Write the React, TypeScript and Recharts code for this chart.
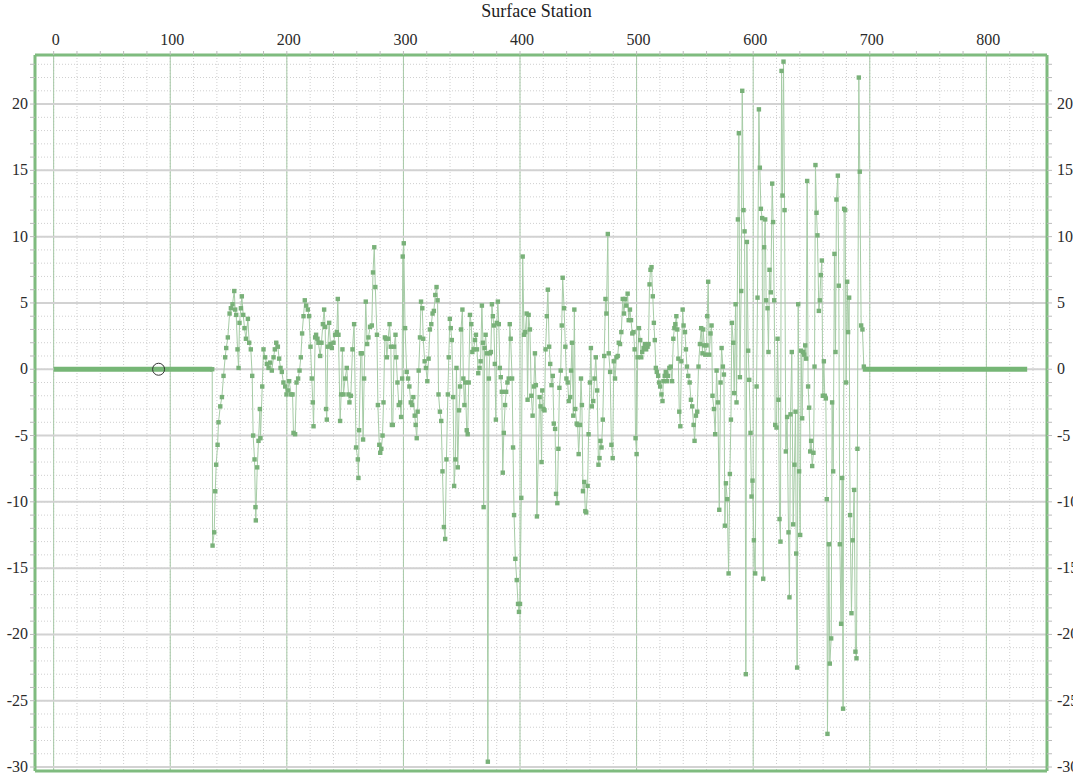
import { LineChart, Line, XAxis, YAxis, CartesianGrid, ReferenceLine, ReferenceDot } from 'recharts';

const stations = [
  136, 136.3, 137.7, 138.6, 139.4, 140.6, 141.4, 142.9, 144.3, 145.7, 147.1, 148, 149.4, 150.9, 152, 153.4, 154.9, 155.7, 156.6, 157.7,
  158.6, 159.4, 160.6, 161.4, 162.6, 163.7, 164.9, 166.6, 167.7, 169.1, 170.3, 171.1, 172.3, 173.1, 173.4, 174.6, 175.7, 176.9, 177.4, 178.9,
  180, 181.4, 182.9, 184.3, 185.7, 187.1, 188.6, 189.7, 190.9, 192.3, 193.4, 194.6, 195.7, 197.1, 198.6, 199.7, 200.9, 202, 203.7, 204.9,
  205.7, 207.1, 208.3, 209.7, 210.9, 212, 213.1, 214.3, 215.4, 216.6, 218, 219.1, 220.3, 221.4, 222.3, 222.9, 224.3, 225.1, 226.3, 227.1,
  228.6, 229.7, 230.9, 232, 232.9, 233.7, 234.3, 235.1, 236.3, 237.4, 238.6, 240, 241.4, 242.9, 243.7, 244.3, 245.7, 246.6, 247.7, 248.6,
  250, 251.4, 252.9, 253.7, 254.9, 256.3, 257.7, 259.4, 260.9, 261.4, 262, 263.4, 264.3, 265.4, 266.3, 267.7, 268.9, 270, 271.4, 272.9,
  273.9, 275, 275.9, 277.3, 278.1, 279.3, 280.1, 281, 282.1, 282.9, 284.1, 285, 285.8, 286.9, 288.1, 289.2, 290.1, 290.9, 292, 293.2,
  293.8, 294.9, 296, 297.2, 298, 298.9, 299.4, 300.3, 301.4, 302.8, 304, 305.1, 306.3, 307.4, 308.5, 309.7, 310.5, 311.4, 312.2, 313.1,
  314.2, 315.1, 316.2, 317, 318.2, 319.3, 320.5, 321.6, 322.7, 323.9, 325, 326.1, 327.3, 328.4, 329.3, 330.1, 331.3, 332.4, 333.5, 334.7,
  335.8, 336.9, 338.1, 338.9, 339.8, 340.6, 341.5, 342.6, 343.5, 344.6, 345.5, 346.6, 347.7, 348.6, 349.4, 350.6, 351.4, 352.3, 353.1, 354.3,
  355.1, 356, 357.1, 358.2, 359.1, 360.2, 361.4, 362.2, 363.1, 364.2, 365.3, 366.2, 367.3, 368.2, 368.8, 369.6, 370.5, 371.6, 372.4, 373.3,
  374.1, 375, 375.9, 376.7, 377.6, 378.4, 379.3, 380.1, 381, 381.8, 382.7, 383.5, 384.4, 385.2, 386.1, 387.2, 388.1, 389.2, 390.3, 391.2,
  392, 393.2, 394, 394.9, 396, 397.2, 398.3, 399.1, 400, 401.1, 402.3, 403.4, 404.5, 405.7, 406.5, 407.4, 408.5, 409.7, 410.8, 411.9,
  412.8, 413.6, 414.5, 416.8, 417.6, 418.5, 419.1, 420.2, 421, 421.9, 423, 423.9, 425, 425.9, 427, 428.1, 429, 430.1, 430.9, 432,
  432.9, 433.8, 434.9, 435.8, 436.6, 437.8, 438.9, 439.8, 440.9, 441.8, 443, 443.8, 444.6, 445.7, 446.6, 447.4, 448.6, 449.4, 450.3, 451.4,
  452.3, 453.1, 454, 455.1, 456, 456.8, 458, 458.8, 460, 460.8, 461.6, 462.8, 463.9, 465, 466.2, 467.3, 468.2, 469, 469.9, 471,
  472.2, 473.3, 474.1, 475.3, 476.1, 477.3, 478.4, 479.5, 480.4, 481.5, 482.7, 483.8, 484.7, 485.8, 486.9, 488.1, 489.2, 490.1, 491.2, 492.3,
  493.2, 494.3, 495.2, 496.3, 497.4, 498.3, 499.1, 500, 500.9, 502, 503.1, 504, 504.8, 506, 507.1, 508.2, 509.4, 510.2, 511.1, 511.9,
  512.8, 513.9, 514.8, 515.6, 516.5, 517.3, 518.5, 519.3, 520.2, 521.3, 522.2, 523, 524.1, 525, 526.1, 527, 528.1, 529.3, 530.4, 531.5,
  532.4, 533.2, 534.1, 534.9, 535.8, 536.6, 537.5, 538.4, 539.5, 540.3, 541.5, 542.3, 543.2, 544.3, 545.5, 546.6, 547.7, 548.9, 549.7, 550.9,
  552, 553.1, 554.3, 555.4, 556.5, 557.1, 558, 558.9, 560, 560.6, 561.4, 562.3, 563.4, 564.3, 565.1, 566.3, 567.4, 568.6, 569.7, 570.9,
  572, 572.9, 574, 574.9, 575.7, 576.6, 577.7, 578.9, 580, 580.9, 581.7, 582.9, 583.7, 584.9, 585.7, 586.9, 587.7, 588.6, 589.7, 590.6,
  591.7, 592.6, 593.7, 594.6, 595.7, 596.6, 597.7, 598.6, 599.4, 600.6, 601.7, 602.9, 603.7, 604.9, 605.7, 606.6, 607.7, 608.6, 609.4, 610.3,
  611.1, 612.3, 613.1, 614, 615.1, 616.3, 617.1, 618, 618.9, 620, 620.9, 621.7, 622.6, 623.4, 624.3, 625.1, 626, 626.9, 628, 629.1,
  630.3, 631.1, 632, 633.1, 634.3, 635.4, 636.3, 636.9, 637.7, 638.6, 639.4, 640.3, 641.1, 642, 642.9, 643.7, 644.6, 645.4, 646.3, 647.1,
  648, 648.9, 649.7, 650.6, 651.7, 652.6, 653.4, 654.3, 655.1, 656.3, 657.1, 658, 658.9, 659.7, 660.6, 661.4, 662.3, 663.1, 663.7, 664.9,
  665.7, 666.9, 667.7, 668.6, 669.7, 670.6, 671.4, 672.6, 673.4, 674.3, 675.4, 676.3, 677.1, 678, 678.9, 679.7, 680.6, 681.4, 682.3, 683.1,
  684.3, 685.4, 686.6, 687.7, 688.6, 689.4, 690.6, 691.4, 692.6, 693.7, 694.9,
];

const residuals = [
  0, -13.3, -12.3, -9.2, -7.2, -5.7, -4.0, -2.8, -2.1, -0.5, 0.9, 1.6, 2.4, 4.2, 4.6, 4.9, 5.9, 4.5, 4.1, 1.5,
  0.1, 3.5, 4.6, 5.5, 4.1, 3.1, 2.3, 3.8, 2.0, 1.5, -0.5, -5.0, -6.8, -10.4, -11.4, -7.4, -5.4, -3.0, -5.2, -1.3,
  1.5, 0.9, 0.4, 0.1, 0.5, -0.1, 0.9, 1.5, 2.0, 1.7, 0.8, 0.1, -0.2, -1.0, -1.3, -1.9, -1.6, -0.9, -1.9, -1.9,
  -4.8, -4.9, -1.0, -0.7, -0.1, 0.9, 2.7, 4.0, 5.2, 4.8, 4.5, 4.0, 1.7, -0.7, -2.5, -4.3, 2.4, 2.6, 2.3, 2.0,
  1.0, 2.0, 3.4, 4.5, 3.2, -3.0, -3.8, 1.7, 3.5, 1.9, 1.6, 2.0, 2.6, 2.8, 5.3, 2.6, -3.9, -1.9, 1.5, -1.9,
  -0.7, 0.1, -1.9, -2.5, -2.0, 1.5, 3.4, -5.9, -6.8, -8.2, -4.6, 1.2, 1.2, -5.3, -0.7, 5.1, 1.9, 2.4, 3.2, 3.3,
  7.3, 9.2, 6.2, 2.6, -2.7, -5.7, -6.3, -6.0, -5.0, -2.5, 2.4, 2.3, 0.9, 2.3, 3.4, 1.7, -4.2, -4.2, 1.7, 2.6,
  0.9, -1.0, -2.7, -2.5, -3.6, -0.7, 8.5, 9.5, 3.1, -0.2, -0.7, -1.3, -2.5, -2.7, -2.1, -3.5, -4.2, -5.2, -3.2, -0.1,
  2.4, 5.1, 4.6, 2.3, 0.6, 0.1, -0.9, 0.8, 3.0, 3.4, 4.2, 4.4, 5.6, 6.2, 5.2, -1.9, -3.2, -3.9, -7.7, -11.9,
  -12.8, -6.8, -1.9, 0.9, 3.8, 3.1, 2.2, -2.1, -8.8, -6.8, 0.1, -7.4, -3.1, -1.3, 3.0, 4.5, -0.7, -2.7, -1.0, -4.6,
  -4.9, -1.0, 4.1, 3.4, 1.3, 1.5, 2.2, 2.6, 1.5, -0.3, 0.1, 0.6, 4.8, 2.0, -10.4, 1.6, 2.6, 1.2, -29.6, -0.7,
  1.2, 1.3, 4.9, 4.0, 3.3, 0.4, -3.8, 3.5, 5.1, 3.4, 0.1, -0.6, -1.7, -7.8, -4.8, -2.7, -1.7, -1.0, -0.7, 3.4,
  2.3, -0.7, -5.9, -11.0, -14.3, -15.9, -17.7, -18.3, -17.7, -9.7, 8.5, 2.6, 2.8, 4.2, -2.3, 4.1, 3.0, -2.0, -3.5, -1.3,
  1.2, -1.2, -11.1, -2.1, -2.8, -7.0, -1.6, -3.0, -3.1, 1.5, 4.0, 6.0, 1.7, 0.4, -1.2, -0.5, -4.1, -4.5, -9.4, -10.1,
  -6.0, -1.4, -0.1, 3.3, 6.9, 4.6, 1.7, -0.7, -1.0, -2.4, -2.1, -0.1, 2.0, -3.5, 4.5, -3.0, -4.1, -4.2, -6.4, -4.2,
  -0.7, -2.7, -9.2, -8.5, -10.7, -10.8, -8.8, -4.9, -1.0, 1.6, -2.8, -2.4, -0.7, 0.9, -1.6, -7.2, -6.7, -5.4, -5.9, -3.8,
  1.0, 5.3, 4.2, 10.2, 1.2, -0.2, -5.7, -6.7, 0.6, -0.7, 0.9, 1.0, 2.0, 1.9, 2.8, 5.3, 4.2, 5.3, 4.8, 5.7,
  3.7, 4.5, 3.7, 2.7, 2.8, 1.5, -5.2, -6.4, 0.9, 3.1, 2.2, 0.9, 1.3, 1.6, 1.9, 1.5, 1.7, 1.9, 6.4, 7.5,
  7.7, 5.5, 3.5, 2.2, 0.1, -0.2, -0.5, -1.0, -1.3, -1.9, -2.4, -0.9, -0.5, -0.2, -0.9, -0.5, 0.1, 0.2, -0.9, 2.3,
  3.1, 3.4, 4.0, 3.0, 0.8, -3.2, -4.3, 0.6, 4.5, 3.3, 2.8, 1.5, 0.2, -0.5, -1.0, -2.3, -2.8, -4.2, -5.4, -3.5,
  -3.2, 0.2, 1.9, 3.1, 1.2, 3.0, 1.8, 1.1, 1.8, 4.0, 6.6, 1.1, 2.7, 3.3, -2.0, -3.0, -4.9, -0.1, -2.5, -10.6,
  -1.0, 1.6, 0.2, -0.4, -11.8, -8.6, -9.8, -15.4, -7.9, -3.8, 3.5, 2.0, -1.8, 4.9, -2.5, 11.3, 17.8, -0.6, 5.9, 21.0,
  12.0, 10.4, -23.0, 9.6, 1.4, -0.8, -4.8, -9.6, -8.4, -12.9, -15.4, -1.3, 5.4, 19.6, 15.2, 12.1, 11.4, -15.8, 9.2, 11.3,
  5.2, 4.6, 1.3, 7.5, 5.8, 14.0, 11.1, 5.2, -4.2, -4.4, 2.3, -2.3, -11.3, -13.0, 22.5, 13.1, 23.2, 12.0, -6.2, -3.6,
  -12.3, -17.2, -3.4, 1.3, -11.7, -7.2, -3.2, -13.9, -22.5, 4.9, -7.7, -12.5, 1.4, -3.7, 1.3, 1.1, 1.8, 0.8, 14.2, -1.3,
  -2.9, -6.2, -5.4, -7.3, -6.3, 0.2, 15.4, 11.8, 10.1, 4.4, 5.2, 7.1, 8.2, -2.0, 0.6, -2.0, -2.2, -9.8, -27.5, -13.2,
  -22.2, -20.3, -2.5, -7.7, 8.7, 1.3, 12.8, 14.6, 6.3, -13.2, -19.2, -8.2, -25.6, 12.1, 12.0, -1.0, 6.6, 2.8, 5.4, -11.0,
  -18.4, -12.9, -9.1, -21.3, -21.8, -6.0, 22.0, 14.9, 3.3, 3.0, 0.2,
];

const leadStations = [0, 136];
const leadValues = [0, 0];
const tailStations = [694, 835];
const tailValues = [0, 0];

const xTickLabels = [0, 100, 200, 300, 400, 500, 600, 700, 800];
const yTickLabels = [-30, -25, -20, -15, -10, -5, 0, 5, 10, 15, 20];

const markerStation = 90;
const markerValue = 0;

const X_DOMAIN: [number, number] = [-16, 852];
const Y_DOMAIN: [number, number] = [-30.3, 23.7];

const mainData = stations.map((x, i) => ({ x, y: residuals[i] }));
const leadData = leadStations.map((x, i) => ({ x, y: leadValues[i] }));
const tailData = tailStations.map((x, i) => ({ x, y: tailValues[i] }));

const xMinor: number[] = [];
for (let v = 0; v <= 840; v += 20) xMinor.push(v);
const yMinor: number[] = [];
for (let v = -30; v <= 23; v += 1) yMinor.push(v);

const GREEN = '#7fbb7f';
const FONT = '"Liberation Serif", "DejaVu Serif", serif';
const labelStyle = { fontFamily: FONT, fontSize: 16, fill: '#2a2a2a' };

const SquareDot = (props: any) => {
  const { cx, cy, index } = props;
  if (cx == null || cy == null) return <g key={`d-${index}`} />;
  return <rect key={`d-${index}`} x={cx - 2.2} y={cy - 2.2} width={4.4} height={4.4} fill="#79b179" />;
};

const TopTick = (props: any) => {
  const { x, y, payload } = props;
  if (!xTickLabels.includes(payload.value)) return <g />;
  return (
    <text x={x + 2} y={y - 3} textAnchor="middle" fontFamily={FONT} style={labelStyle}>
      {payload.value}
    </text>
  );
};

const LeftTick = (props: any) => {
  const { x, y, payload } = props;
  if (!yTickLabels.includes(payload.value)) return <g />;
  return (
    <text x={x} y={y + 5} textAnchor="end" fontFamily={FONT} style={labelStyle}>
      {payload.value}
    </text>
  );
};

const RightTick = (props: any) => {
  const { x, y, payload } = props;
  if (!yTickLabels.includes(payload.value)) return <g />;
  return (
    <text x={x} y={y + 5} textAnchor="start" fontFamily={FONT} style={labelStyle}>
      {payload.value}
    </text>
  );
};

export default function App() {
  return (
    <div style={{ position: 'fixed', left: 0, top: 0, width: 1073, height: 776, background: '#fff', fontFamily: FONT }}>
      <div
        style={{
          position: 'absolute',
          top: 1,
          left: 0,
          width: 1073,
          textAlign: 'center',
          fontFamily: FONT,
          fontSize: 18,
          color: '#222',
        }}
      >
        Surface Station
      </div>
      <LineChart width={1073} height={776} data={mainData} margin={{ top: 28, right: 0, bottom: 5, left: 0 }}>
        <CartesianGrid horizontal={false} verticalValues={xMinor} stroke="#cfcfcf" strokeDasharray="1 2" />
        <CartesianGrid vertical={false} horizontalValues={yMinor} stroke="#cfcfcf" strokeDasharray="1 2" />
        <CartesianGrid horizontal={false} verticalValues={xTickLabels} stroke="#a6c8a6" strokeWidth={1} />
        <CartesianGrid vertical={false} horizontalValues={yTickLabels} stroke="#d2d2d2" strokeWidth={2} />
        <XAxis
          dataKey="x"
          type="number"
          orientation="top"
          domain={X_DOMAIN}
          ticks={xMinor}
          interval={0}
          allowDataOverflow
          height={27}
          tickSize={4}
          tickMargin={3}
          tick={<TopTick />}
          axisLine={{ stroke: GREEN, strokeWidth: 3 }}
          tickLine={{ stroke: '#bbb' }}
        />
        <YAxis
          type="number"
          domain={Y_DOMAIN}
          ticks={yMinor}
          interval={0}
          allowDataOverflow
          width={35}
          tickSize={5}
          tickMargin={2}
          tick={<LeftTick />}
          axisLine={{ stroke: GREEN, strokeWidth: 3 }}
          tickLine={{ stroke: '#bbb' }}
        />
        <YAxis
          yAxisId="r"
          orientation="right"
          type="number"
          domain={Y_DOMAIN}
          ticks={yMinor}
          interval={0}
          allowDataOverflow
          width={26}
          tickSize={5}
          tickMargin={5}
          tick={<RightTick />}
          axisLine={{ stroke: GREEN, strokeWidth: 3 }}
          tickLine={{ stroke: '#bbb' }}
        />
        <ReferenceLine y={Y_DOMAIN[0]} stroke={GREEN} strokeWidth={3} ifOverflow="extendDomain" />
        <Line
          data={mainData}
          dataKey="y"
          type="linear"
          stroke="#a6cca6"
          strokeWidth={1}
          dot={SquareDot}
          activeDot={false}
          isAnimationActive={false}
        />
        <Line
          data={leadData}
          dataKey="y"
          type="linear"
          stroke="#76b676"
          strokeWidth={5}
          dot={false}
          activeDot={false}
          isAnimationActive={false}
        />
        <Line
          data={tailData}
          dataKey="y"
          type="linear"
          stroke="#76b676"
          strokeWidth={5}
          dot={false}
          activeDot={false}
          isAnimationActive={false}
        />
        <ReferenceDot x={markerStation} y={markerValue} r={6} fill="none" stroke="#333" strokeWidth={1} />
      </LineChart>
    </div>
  );
}
